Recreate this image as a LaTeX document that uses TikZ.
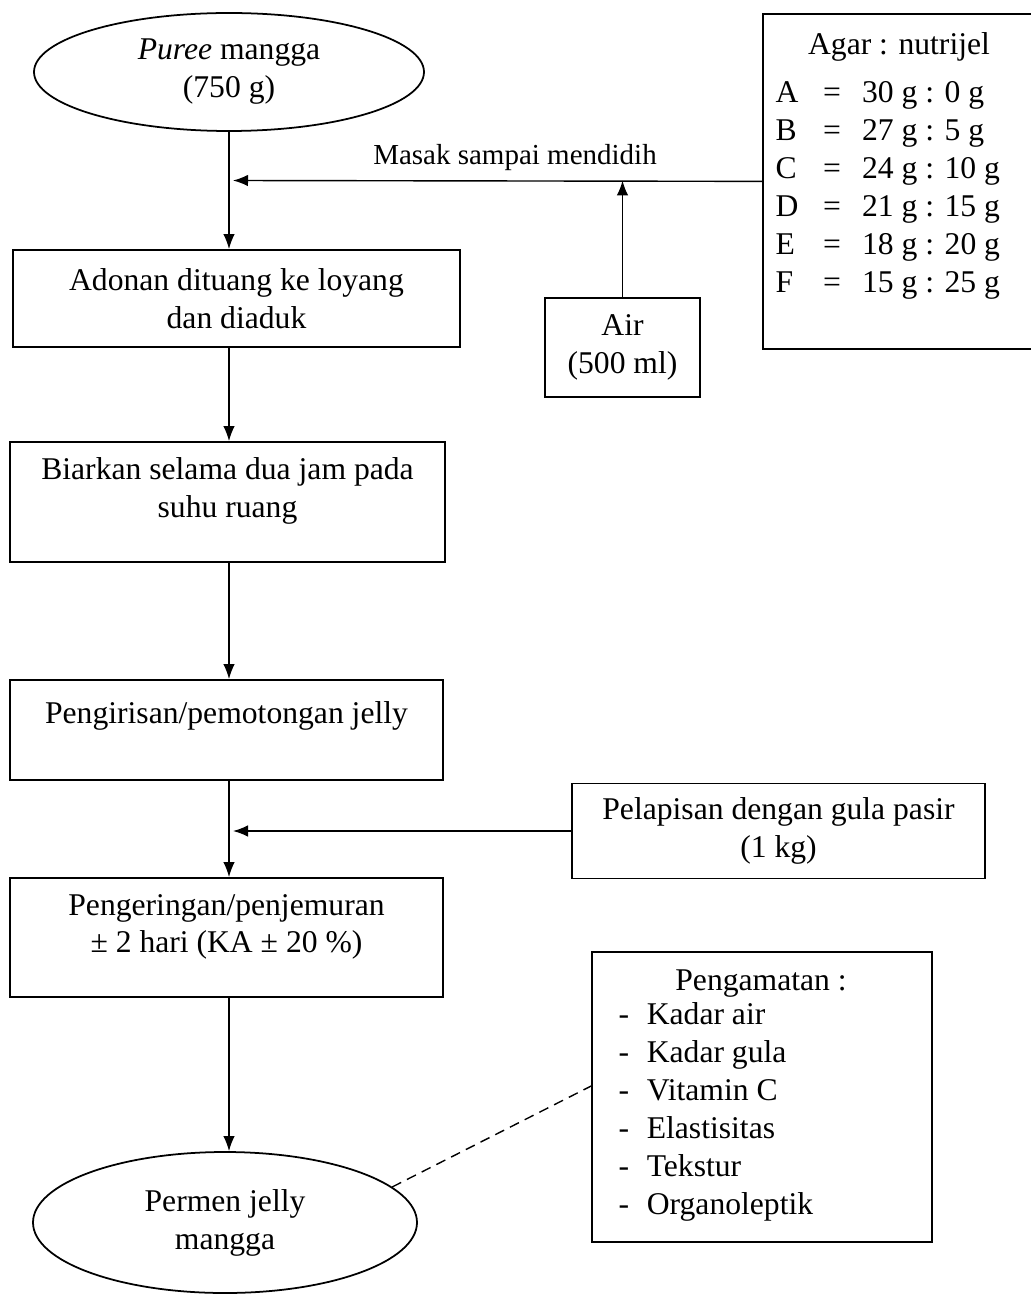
\documentclass[tikz,border=0pt]{standalone}
\usepackage{fontspec}
\setmainfont{Liberation Serif}
\usetikzlibrary{shapes.geometric,arrows.meta}

\begin{document}
\begin{tikzpicture}[every node/.style={font=\fontsize{18}{21.6}\selectfont}]
        \useasboundingbox (0,0) rectangle (20.6,-25.9);
        \begin{scope}[every node/.style={ellipse,draw,line width=1pt,inner sep=0pt,align=center,font=\fontsize{18}{21.6}\selectfont}]
            \node (puree) [minimum width=7.8cm, minimum height=2.36cm] at (4.58, -1.44) {\textit{Puree} mangga\\(750 g)};
            \node (permen) [minimum width=7.68cm, minimum height=2.82cm] at (4.5, -24.45) {Permen jelly\\mangga};
        \end{scope}
        \begin{scope}[every node/.style={rectangle,draw,line width=1pt,align=center,font=\fontsize{18}{21.6}\selectfont}]
            \node (adonan) [minimum width=8.94cm, minimum height=1.94cm] at (4.73, -5.97) {Adonan dituang ke loyang\\dan diaduk};
            \node (biarkan) [minimum width=8.7cm, minimum height=2.4cm, text depth=0.58cm] at (4.55, -10.04) {Biarkan selama dua jam pada\\suhu ruang};
            \node (pengirisan) [minimum width=8.66cm, minimum height=2cm, text depth=0.7cm] at (4.53, -14.6) {Pengirisan/pemotongan jelly};
            \node (pengeringan) [minimum width=8.66cm, minimum height=2.38cm, text depth=0.56cm] at (4.53, -18.75) {Pengeringan/penjemuran\\± 2 hari (KA ± 20 \%)};
            \node (air) [minimum width=3.1cm, minimum height=1.98cm] at (12.45, -6.95) {Air\\(500 ml)};
            \node (pelapisan) [minimum width=8.26cm, minimum height=1.9cm] at (15.57, -16.62) {Pelapisan dengan gula pasir\\(1 kg)};
            \node (agar) [minimum width=5.8cm, minimum height=6.7cm, anchor=north west] at (15.24, -0.26) {};
            \node (pengamatan) [minimum width=6.8cm, minimum height=5.8cm] at (15.24, -21.94) {};
        \end{scope}
        \node (masak) [font=\fontsize{16.5}{20}\selectfont] at (10.3, -3.16) {Masak sampai mendidih};
        \node (agarttl) at (17.98, -0.94) {Agar : nutrijel};
        \node (agarval) [anchor=west] at (15.39, -3.8) {\begin{tabular}{@{}l@{\hspace{14pt}}c@{\hspace{12pt}}l@{}}
            A & = & 30 g : 0 g\\
            B & = & 27 g : 5 g\\
            C & = & 24 g : 10 g\\
            D & = & 21 g : 15 g\\
            E & = & 18 g : 20 g\\
            F & = & 15 g : 25 g
        \end{tabular}};
        \node (pengamatanttl) at (15.22, -19.68) {Pengamatan :};
        \node (pengamatanlist) [anchor=west] at (12.25, -22.24) {\begin{tabular}{@{}l@{\hspace{10pt}}l@{}}
            - & Kadar air\\
            - & Kadar gula\\
            - & Vitamin C\\
            - & Elastisitas\\
            - & Tekstur\\
            - & Organoleptik
        \end{tabular}};
        \coordinate (masakend) at (4.66, -3.61);
        \coordinate (pelapisanend) at (4.66, -16.62);
        \path [-{Latex[length=3mm,width=2.3mm]}] (puree) edge[draw=black,thick] (puree |- adonan.north);
        \path [-{Latex[length=3mm,width=2.3mm]}] (adonan.south -| puree) edge[draw=black,thick] (biarkan.north -| puree);
        \path [-{Latex[length=3mm,width=2.3mm]}] (biarkan.south -| puree) edge[draw=black,thick] (pengirisan.north -| puree);
        \path [-{Latex[length=3mm,width=2.3mm]}] (pengirisan.south -| puree) edge[draw=black,thick] (pengeringan.north -| puree);
        \path [-{Latex[length=3mm,width=2.3mm]}] (pengeringan.south -| puree) edge[draw=black,thick] (permen.north -| puree);
        \path [-{Latex[length=3mm,width=2.3mm]}] (agar.west) edge[draw=black,thick] (masakend);
        \path [-{Latex[length=3mm,width=2.3mm]}] (air) edge[draw=black,thick] (air |- masakend);
        \path [-{Latex[length=3mm,width=2.3mm]}] (pelapisan.west) edge[draw=black,thick] (pelapisanend);
        \path (permen.12) edge[draw=black,thick,dash pattern=on 2mm off 1.3mm] ([yshift=2.2mm]pengamatan.west);
    \end{tikzpicture}
\end{document}
